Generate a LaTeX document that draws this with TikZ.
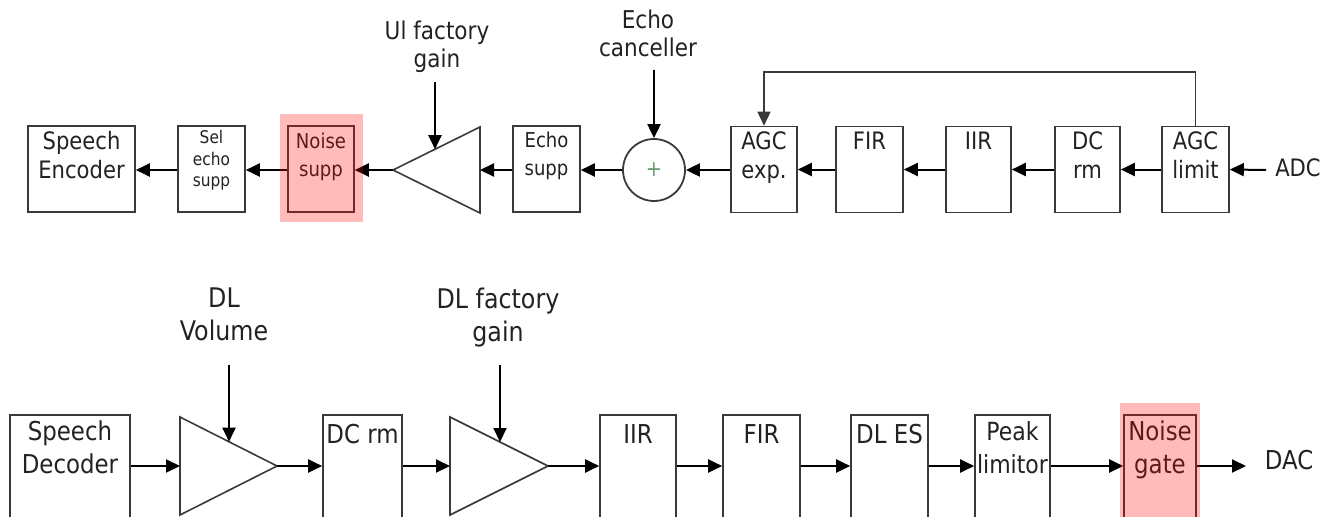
\documentclass[tikz,border=0pt]{standalone}
\usepackage{fontspec}
\setmainfont{DejaVu Sans}[FakeStretch=0.88]
\usetikzlibrary{arrows.meta}
\definecolor{edge}{HTML}{3A3A3A}
\definecolor{ink}{HTML}{222222}
\definecolor{plusc}{HTML}{6F9A6F}
\begin{document}
\begin{tikzpicture}[x=1pt,y=-1pt,
  box/.style={draw=edge, line width=1.6pt, fill=white, inner sep=0, minimum height=#1},
  box/.default=86,
  txt/.style={inner sep=0, align=center, anchor=north, text=ink},
  ftop/.style={font=\fontsize{24}{29}\selectfont},
  fmid/.style={font=\fontsize{20.5}{28}\selectfont},
  flab/.style={font=\fontsize{24.5}{28}\selectfont},
  fsml/.style={font=\fontsize{17.5}{21.5}\selectfont},
  fbot/.style={font=\fontsize{26}{33}\selectfont},
  fblab/.style={font=\fontsize{27}{33}\selectfont},
  tip/.style={-{Triangle[length=14pt,width=13pt]}},
  conn/.style={draw=black, line width=2pt, tip},
  link/.style={draw=edge, line width=1.6pt},
  amp/.style={draw=edge, line width=1.6pt, fill=white, line join=miter},
  hl/.style={fill=red, fill opacity=0.27, draw=none}
]
\useasboundingbox (0,0) rectangle (1326,517);
\clip (0,0) rectangle (1326,517);
% ---------------- top row ----------------
\node[box, minimum width=107] (enc) at (81.5,169) {};
\node[box, minimum width=67] (sel) at (211.5,169) {};
\node[box, minimum width=66] (ns) at (321,169) {};
\node[box, minimum width=67] (es) at (546.5,169) {};
\node[draw=edge, line width=1.8pt, circle, minimum size=62, inner sep=0, fill=white] (sum) at (654,170) {};
\node[inner sep=0, text=plusc, font=\fontsize{22}{22}\selectfont] (plus) at (sum.center) {+};
\node[box, minimum width=66] (agce) at (764,169.5) {};
\node[box, minimum width=67] (fir) at (869.5,169.5) {};
\node[box, minimum width=65] (iir) at (978.5,169.5) {};
\node[box, minimum width=65] (dcrm) at (1087.5,169.5) {};
\node[box, minimum width=67] (agcl) at (1195.5,169.5) {};
\node[txt, ftop, anchor=center] (adc) at (1298,168) {ADC};
\coordinate (adcin) at (1266,170);

% amplifier (top, pointing left)
\coordinate (ua) at (393,170);
\coordinate (ub) at (480,170);
\draw[amp] (ua) -- (480,127) -- (480,213) -- cycle;
\coordinate (ug) at (435,149.2);
\coordinate (ulin) at (435,82);
\coordinate (ecin) at (654,70);

\node[txt, ftop] (tenc) at (81.5,131) {Speech\\Encoder};
\node[txt, fsml] (tsel) at (211.5,130) {Sel\\echo\\supp};
\node[txt, fmid] (tns) at (321,133) {Noise\\supp};
\node[txt, fmid] (tes) at (546.5,132) {Echo\\supp};
\node[txt, ftop] (tagce) at (764,131) {AGC\\exp.};
\node[txt, ftop] (tfir) at (869.5,132) {FIR};
\node[txt, ftop] (tiir) at (978.5,132) {IIR};
\node[txt, ftop] (tdcrm) at (1087.5,131) {DC\\rm};
\node[txt, ftop] (tagcl) at (1195.5,131) {AGC\\limit};

\node[txt, flab] (lul) at (437,21) {Ul factory\\gain};
\node[txt, flab] (lec) at (648,10) {Echo\\canceller};

% top connectors
\draw[conn] (adcin) -- (agcl.east);
\draw[conn] (agcl.west) -- (dcrm.east);
\draw[conn] (dcrm.west) -- (iir.east);
\draw[conn] (iir.west) -- (fir.east);
\draw[conn] (fir.west) -- (agce.east);
\draw[conn] (agce.west |- sum.east) -- (sum.east);
\draw[conn] (sum.west) -- (es.east |- sum.west);
\draw[conn] (es.west |- ub) -- (ub);
\draw[conn] (ua) -- (ns.east |- ua);
\draw[conn] (ns.west |- ua) -- (sel.east |- ua);
\draw[conn] (sel.west |- ua) -- (enc.east |- ua);
\draw[link, tip] (agcl.north) -- ++(0,-54) -| (agce.north);
\draw[conn] (ulin) -- (ug);
\draw[conn] (ecin) -- (sum.north);

\fill[hl] (280,114) rectangle (363,222);

% ---------------- bottom row ----------------
\node[box=130, minimum width=120] (dec) at (70,480) {};
\node[box=130, minimum width=79] (dcrm2) at (362.5,480) {};
\node[box=130, minimum width=76] (iir2) at (638,480) {};
\node[box=130, minimum width=77] (fir2) at (761.5,480) {};
\node[box=130, minimum width=77] (dles) at (889.5,480) {};
\node[box=130, minimum width=75] (peak) at (1012.5,480) {};
\node[box=130, minimum width=72] (ng) at (1160,480) {};
\node[txt, fbot, anchor=center] (dac) at (1289,460) {DAC};
\coordinate (dacin) at (1246,466);

\coordinate (a1l) at (180,466);
\coordinate (a1r) at (277,466);
\draw[amp] (180,417) -- (a1r) -- (180,515) -- cycle;
\coordinate (a1g) at (229,441.7);
\coordinate (a2l) at (450,466);
\coordinate (a2r) at (548,466);
\draw[amp] (450,417) -- (a2r) -- (450,515) -- cycle;
\coordinate (a2g) at (500,442);
\coordinate (dvin) at (229,365);
\coordinate (dfin) at (500,365);

\node[txt, fbot] (tdec) at (70,421) {Speech\\Decoder};
\node[txt, fbot] (tdcrm2) at (362.5,424) {DC rm};
\node[txt, fbot] (tiir2) at (638,424) {IIR};
\node[txt, fbot] (tfir2) at (761.5,424) {FIR};
\node[txt, fbot] (tdles) at (889.5,424) {DL ES};
\node[txt, fbot, font=\fontsize{25}{33}\selectfont] (tpeak) at (1012.5,421) {Peak\\limitor};
\node[txt, fbot] (tng) at (1160,421) {Noise\\gate};

\node[txt, fblab] (ldv) at (224,288) {DL\\Volume};
\node[txt, fblab] (ldf) at (498,288) {DL factory\\gain};

\draw[conn] (dec.east |- a1l) -- (a1l);
\draw[conn] (a1r) -- (dcrm2.west |- a1r);
\draw[conn] (dcrm2.east |- a2l) -- (a2l);
\draw[conn] (a2r) -- (iir2.west |- a2r);
\draw[conn] (iir2.east |- a2r) -- (fir2.west |- a2r);
\draw[conn] (fir2.east |- a2r) -- (dles.west |- a2r);
\draw[conn] (dles.east |- a2r) -- (peak.west |- a2r);
\draw[conn] (peak.east |- a2r) -- (ng.west |- a2r);
\draw[conn] (ng.east |- a2r) -- (dacin);
\draw[conn] (dvin) -- (a1g);
\draw[conn] (dfin) -- (a2g);

\fill[hl] (1120,403) rectangle (1200,520);
\end{tikzpicture}
\end{document}
